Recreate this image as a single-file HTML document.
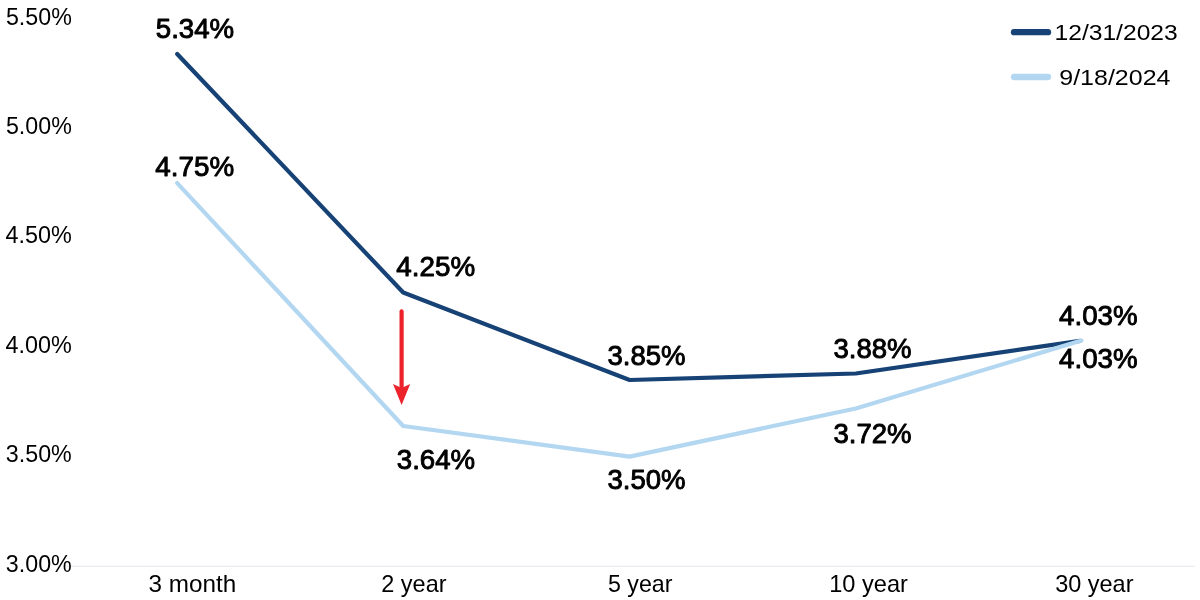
<!DOCTYPE html>
<html lang="en">
<head>
<meta charset="utf-8">
<title>Treasury yield curve</title>
<style>
html,body{margin:0;padding:0;background:#fff;}
body{width:1200px;height:600px;overflow:hidden;}
svg{display:block;}
text{font-family:"Liberation Sans", sans-serif;fill:#000;}
.ax{font-size:24.8px;}
.cat{font-size:24px;}
.lg{font-size:22.6px;}
.dl{font-size:28.4px;stroke:#000;stroke-width:0.95px;stroke-linejoin:round;}
</style>
</head>
<body>
<svg width="1200" height="600" viewBox="0 0 1200 600">
<rect x="0" y="0" width="1200" height="600" fill="#ffffff"/>
<line x1="65" y1="566.5" x2="1195" y2="566.5" stroke="#ebedf1" stroke-width="1"/>
<line x1="65" y1="565.5" x2="1195" y2="565.5" stroke="#eef0f4" stroke-width="1" stroke-dasharray="1 1"/>
<polyline points="177.2,54.0 403.2,292.5 629.6,380.0 855.8,373.5 1080.1,340.8" fill="none" stroke="#174275" stroke-width="4.2" stroke-linecap="round" stroke-linejoin="round"/>
<polyline points="177.2,183.1 403.2,426.0 629.6,456.6 855.8,408.5 1081.4,340.6" fill="none" stroke="#b3d7f1" stroke-width="4.2" stroke-linecap="round" stroke-linejoin="round"/>
<g fill="#ec232b"><line x1="401.6" y1="311.4" x2="401.6" y2="389" stroke="#ec232b" stroke-width="4.2" stroke-linecap="round"/><polygon points="393,384 401.6,388.1 410.2,384 401.6,405"/></g>
<line x1="1014" y1="32.2" x2="1048" y2="32.2" stroke="#174275" stroke-width="6.3" stroke-linecap="round"/>
<line x1="1014" y1="77" x2="1048" y2="77" stroke="#b3d7f1" stroke-width="6.3" stroke-linecap="round"/>
<text id="ax0" class="ax" x="5.95" y="24.50" textLength="65.85" lengthAdjust="spacingAndGlyphs">5.50%</text>
<text id="ax1" class="ax" x="5.95" y="133.80" textLength="65.85" lengthAdjust="spacingAndGlyphs">5.00%</text>
<text id="ax2" class="ax" x="5.45" y="243.10" textLength="66.35" lengthAdjust="spacingAndGlyphs">4.50%</text>
<text id="ax3" class="ax" x="5.45" y="352.50" textLength="66.35" lengthAdjust="spacingAndGlyphs">4.00%</text>
<text id="ax4" class="ax" x="5.85" y="462.00" textLength="65.95" lengthAdjust="spacingAndGlyphs">3.50%</text>
<text id="ax5" class="ax" x="5.85" y="571.50" textLength="65.95" lengthAdjust="spacingAndGlyphs">3.00%</text>
<text id="cat0" class="cat" x="148.55" y="591.50" textLength="87.65" lengthAdjust="spacingAndGlyphs">3 month</text>
<text id="cat1" class="cat" x="381.30" y="591.50" textLength="65.20" lengthAdjust="spacingAndGlyphs">2 year</text>
<text id="cat2" class="cat" x="607.95" y="591.50" textLength="64.55" lengthAdjust="spacingAndGlyphs">5 year</text>
<text id="cat3" class="cat" x="829.15" y="591.50" textLength="78.75" lengthAdjust="spacingAndGlyphs">10 year</text>
<text id="cat4" class="cat" x="1055.20" y="591.50" textLength="78.30" lengthAdjust="spacingAndGlyphs">30 year</text>
<text id="lg0" class="lg" x="1054.51" y="39.90" textLength="123.22" lengthAdjust="spacingAndGlyphs">12/31/2023</text>
<text id="lg1" class="lg" x="1059.27" y="84.50" textLength="111.17" lengthAdjust="spacingAndGlyphs">9/18/2024</text>
<text id="dl0" class="dl" x="155.80" y="38.20" textLength="78.35" lengthAdjust="spacingAndGlyphs">5.34%</text>
<text id="dl1" class="dl" x="155.35" y="176.40" textLength="78.80" lengthAdjust="spacingAndGlyphs">4.75%</text>
<text id="dl2" class="dl" x="396.35" y="276.40" textLength="78.80" lengthAdjust="spacingAndGlyphs">4.25%</text>
<text id="dl3" class="dl" x="396.85" y="468.60" textLength="78.30" lengthAdjust="spacingAndGlyphs">3.64%</text>
<text id="dl4" class="dl" x="607.45" y="365.00" textLength="78.10" lengthAdjust="spacingAndGlyphs">3.85%</text>
<text id="dl5" class="dl" x="607.45" y="488.75" textLength="78.10" lengthAdjust="spacingAndGlyphs">3.50%</text>
<text id="dl6" class="dl" x="833.45" y="358.30" textLength="78.10" lengthAdjust="spacingAndGlyphs">3.88%</text>
<text id="dl7" class="dl" x="833.45" y="442.60" textLength="78.10" lengthAdjust="spacingAndGlyphs">3.72%</text>
<text id="dl8" class="dl" x="1059.07" y="324.90" textLength="78.48" lengthAdjust="spacingAndGlyphs">4.03%</text>
<text id="dl9" class="dl" x="1059.07" y="367.50" textLength="78.48" lengthAdjust="spacingAndGlyphs">4.03%</text>
</svg>
</body>
</html>
